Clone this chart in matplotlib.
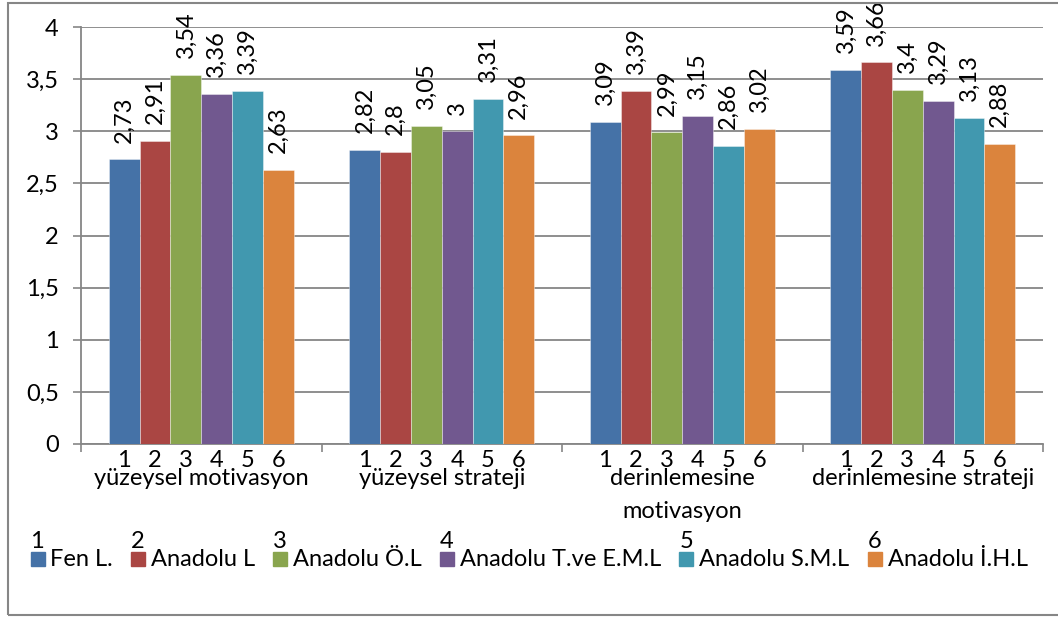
import matplotlib
matplotlib.use("Agg")
import matplotlib.pyplot as plt
from matplotlib.patches import Rectangle
import numpy as np

plt.rcParams['font.family'] = ['Lato', 'DejaVu Sans']

# ---- data ----
groups = ["yüzeysel motivasyon", "yüzeysel strateji",
          "derinlemesine\nmotivasyon", "derinlemesine strateji"]
series_numbers = ["1", "2", "3", "4", "5", "6"]
series_names = ["Fen L.", "Anadolu L", "Anadolu Ö.L", "Anadolu T.ve E.M.L",
                "Anadolu S.M.L", "Anadolu İ.H.L"]
fen_l = [2.73, 2.82, 3.09, 3.59]
anadolu_l = [2.91, 2.80, 3.39, 3.66]
anadolu_ol = [3.54, 3.05, 2.99, 3.40]
anadolu_tveeml = [3.36, 3.00, 3.15, 3.29]
anadolu_sml = [3.39, 3.31, 2.86, 3.13]
anadolu_ihl = [2.63, 2.96, 3.02, 2.88]
series_values = [fen_l, anadolu_l, anadolu_ol, anadolu_tveeml, anadolu_sml, anadolu_ihl]
y_ticks = [0, 0.5, 1, 1.5, 2, 2.5, 3, 3.5, 4]

colors = ["#4572A7", "#AA4643", "#89A54E", "#71588F", "#4198AF", "#DB843D"]
grid_gray = "#868686"
FS = 17

W, H = 1058, 617
fig = plt.figure(figsize=(W / 100, H / 100), dpi=100)


def fx(px):
    return px / W


def fy(py):
    return (H - py) / H


ax = fig.add_axes([fx(81), fy(444), fx(1043) - fx(81), fy(27) - fy(444)])

def fmt(v):
    return f"{v:g}".replace(".", ",")

n_series = len(series_values)
bar_w = 0.128
x = np.arange(len(groups))
for i, vals in enumerate(series_values):
    xpos = x + (i - (n_series - 1) / 2) * bar_w
    ax.bar(xpos, vals, width=bar_w, color=colors[i],
           edgecolor=(1, 1, 1, 0.45), linewidth=0.6, zorder=3)
    for xb, v in zip(xpos, vals):
        ax.annotate(fmt(v), xy=(xb, v), xytext=(0, 12), textcoords="offset points",
                    rotation=90, ha="center", va="bottom", fontsize=FS, zorder=4)
        # series number under each bar
        ax.annotate(series_numbers[i], xy=(xb, 0), xycoords=("data", "axes fraction"),
                    xytext=(0, -16.5), textcoords="offset points",
                    ha="center", va="baseline", fontsize=FS)

# group labels (possibly wrapped over two lines)
for gx, name in zip(x, groups):
    for k, line in enumerate(name.split("\n")):
        ax.annotate(line, xy=(gx, 0), xycoords=("data", "axes fraction"),
                    xytext=(0, -29.5 - 23.8 * k), textcoords="offset points",
                    ha="center", va="baseline", fontsize=FS)

ax.set_xlim(-0.5, len(groups) - 0.5)
ax.set_ylim(0, 4)
ax.set_yticks(y_ticks)
ax.set_yticklabels([fmt(t) for t in y_ticks], fontsize=FS)
ax.set_xticks(np.arange(len(groups) + 1) - 0.5)
ax.set_xticklabels([])
ax.tick_params(axis="y", length=6, width=1.2, color=grid_gray, pad=10)
ax.tick_params(axis="x", length=6, width=1.2, color=grid_gray, direction="out")
ax.yaxis.grid(True, color=grid_gray, linewidth=1.3, zorder=0)
ax.set_axisbelow(True)
for s in ["top", "right"]:
    ax.spines[s].set_visible(False)
for s in ["left", "bottom"]:
    ax.spines[s].set_color(grid_gray)
    ax.spines[s].set_linewidth(1.3)

# outer chart frame
fig.patches.append(Rectangle((fx(8), fy(615)), fx(1075) - fx(8), fy(3) - fy(615),
                             transform=fig.transFigure, fill=False,
                             edgecolor=grid_gray, linewidth=1.5))

# legend: number above each colour square, name beside it
fig.canvas.draw()
renderer = fig.canvas.get_renderer()
sq = 14
gap_text = 6
gap_entry = 18
name_texts = []
widths = []
for name in series_names:
    t = fig.text(0, 0, name, fontsize=FS, va="baseline", ha="left")
    widths.append(t.get_window_extent(renderer).width)
    name_texts.append(t)
total = sum(sq + gap_text + w for w in widths) + gap_entry * (len(widths) - 1)
cur = 529 - total / 2
for i, (t, w) in enumerate(zip(name_texts, widths)):
    fig.patches.append(Rectangle((fx(cur), fy(566)), sq / W, sq / H,
                                 transform=fig.transFigure, color=colors[i]))
    fig.text(fx(cur), fy(548), series_numbers[i], fontsize=FS, va="baseline", ha="left")
    t.set_position((fx(cur + sq + gap_text), fy(566)))
    cur += sq + gap_text + w + gap_entry

fig.savefig("out.png", dpi=100)
